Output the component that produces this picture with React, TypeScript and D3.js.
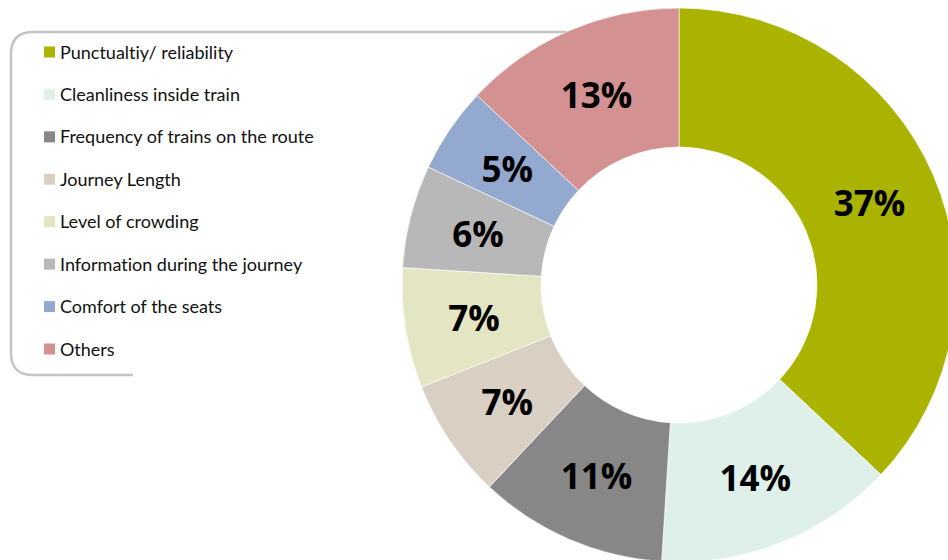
import React from "react";
import * as d3 from "d3";

const categories = [
  "Punctualtiy/ reliability",
  "Cleanliness inside train",
  "Frequency of trains on the route",
  "Journey Length",
  "Level of crowding",
  "Information during the journey",
  "Comfort of the seats",
  "Others",
];
const values = [37, 14, 11, 7, 7, 6, 5, 13];
const colors = ["#aab400", "#dff0ea", "#878787", "#d9cfc2", "#e4e5c3", "#b8b8b8", "#94a9d0", "#d39191"];

const W = 948;
const H = 560;
const CX = 679;
const CY = 285;
const R_OUT = 277;
const R_IN = 138;

export default function App() {
  const pie = d3.pie<number>().sort(null).value((d) => d)(values);
  const arc = d3.arc<d3.PieArcDatum<number>>().innerRadius(R_IN).outerRadius(R_OUT);
  const total = d3.sum(values);
  const fmt = (v: number) => `${Math.round((v / total) * 100)}%`;

  const legendY = d3.scalePoint<number>().domain(d3.range(categories.length)).range([52, 349]);

  const r = 22;
  const boxPath = `M133,375 L${11 + r},375 Q11,375 11,${375 - r} L11,${32 + r} Q11,32 ${11 + r},32 L660,32`;

  return (
    <svg
      width={W}
      height={H}
      style={{ position: "absolute", left: 0, top: 0, background: "#fff" }}
      fontFamily="'Open Sans', 'DejaVu Sans', sans-serif"
    >
      <path d={boxPath} fill="none" stroke="#c4c4c4" strokeWidth={2.5} />
      {categories.map((c, i) => (
        <g key={c} transform={`translate(0,${legendY(i)})`}>
          <rect x={44} y={-5.5} width={11} height={11} fill={colors[i]} />
          <text
            x={60}
            y={6.5}
            fontSize={18}
            fill="#111"
            fontFamily="Lato, 'Open Sans', sans-serif"
            style={{ fontVariantLigatures: "none" }}
          >
            {c}
          </text>
        </g>
      ))}
      <g transform={`translate(${CX},${CY})`}>
        {pie.map((p, i) => (
          <path key={i} d={arc(p) || ""} fill={colors[i]} stroke="#fff" strokeWidth={0.6} />
        ))}
        {pie.map((p, i) => {
          const [x, y] = arc.centroid(p);
          return (
            <text
              key={"l" + i}
              x={x}
              y={y}
              textAnchor="middle"
              dominantBaseline="central"
              fontSize={35}
              fontWeight="bold"
              fill="#000"
            >
              {fmt(p.data)}
            </text>
          );
        })}
      </g>
    </svg>
  );
}
